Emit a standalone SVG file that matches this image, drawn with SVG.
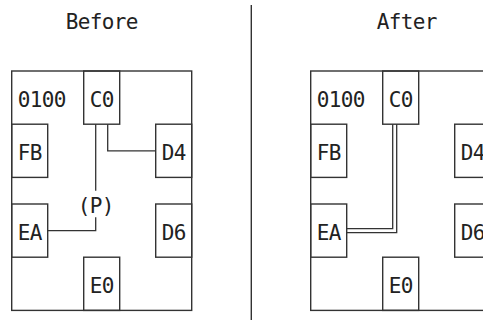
<svg xmlns="http://www.w3.org/2000/svg" width="483" height="320" viewBox="0 0 483 320">
<style>
text{font-family:"DejaVu Sans Mono","Liberation Mono",monospace;font-size:21px;letter-spacing:-0.64px;fill:#222}
.b{fill:none;stroke:#333;stroke-width:1.4}
.c{fill:none;stroke:#333;stroke-width:1.3}
</style>
<rect width="483" height="320" fill="#fff"/>
<g id="titles">
<text x="65.7" y="28.5">Before</text>
<text x="376.7" y="28.5">After</text>
</g>
<g id="divider"><line class="b" x1="251.3" y1="5" x2="251.3" y2="320"/></g>
<g id="before">
<g id="b-outer"><rect class="b" x="11.7" y="71" width="180" height="239.4"/><text x="17.7" y="106.8">0100</text></g>
<g id="b-C0"><rect class="b" x="83.7" y="71" width="36" height="53.2"/><text x="89.7" y="106.8">C0</text></g>
<g id="b-FB"><rect class="b" x="11.7" y="124.2" width="36" height="53.2"/><text x="17.7" y="160">FB</text></g>
<g id="b-D4"><rect class="b" x="155.7" y="124.2" width="36" height="53.2"/><text x="161.7" y="160">D4</text></g>
<g id="b-EA"><rect class="b" x="11.7" y="204" width="36" height="53.2"/><text x="17.7" y="239.8">EA</text></g>
<g id="b-D6"><rect class="b" x="155.7" y="204" width="36" height="53.2"/><text x="161.7" y="239.8">D6</text></g>
<g id="b-E0"><rect class="b" x="83.7" y="257.2" width="36" height="53.2"/><text x="89.7" y="293">E0</text></g>
<g id="b-P"><text x="77.7" y="213.2">(P)</text></g>
</g>
<g id="after">
<g id="a-outer"><rect class="b" x="310.7" y="71" width="180" height="239.4"/><text x="316.7" y="106.8">0100</text></g>
<g id="a-C0"><rect class="b" x="382.7" y="71" width="36" height="53.2"/><text x="388.7" y="106.8">C0</text></g>
<g id="a-FB"><rect class="b" x="310.7" y="124.2" width="36" height="53.2"/><text x="316.7" y="160">FB</text></g>
<g id="a-D4"><rect class="b" x="454.7" y="124.2" width="36" height="53.2"/><text x="460.7" y="160">D4</text></g>
<g id="a-EA"><rect class="b" x="310.7" y="204" width="36" height="53.2"/><text x="316.7" y="239.8">EA</text></g>
<g id="a-D6"><rect class="b" x="454.7" y="204" width="36" height="53.2"/><text x="460.7" y="239.8">D6</text></g>
<g id="a-E0"><rect class="b" x="382.7" y="257.2" width="36" height="53.2"/><text x="388.7" y="293">E0</text></g>
</g>
<g id="connectors">
<path class="c" d="M95.7 124.2V190.7"/>
<path class="c" d="M95.7 217.3V230.6H47.7"/>
<path class="c" d="M107.7 124.2V150.8H155.7"/>
<path class="c" d="M396.7 124.2V232.6H346.7"/>
<path class="c" d="M392.7 124.2V228.6H346.7"/>
</g>
</svg>
